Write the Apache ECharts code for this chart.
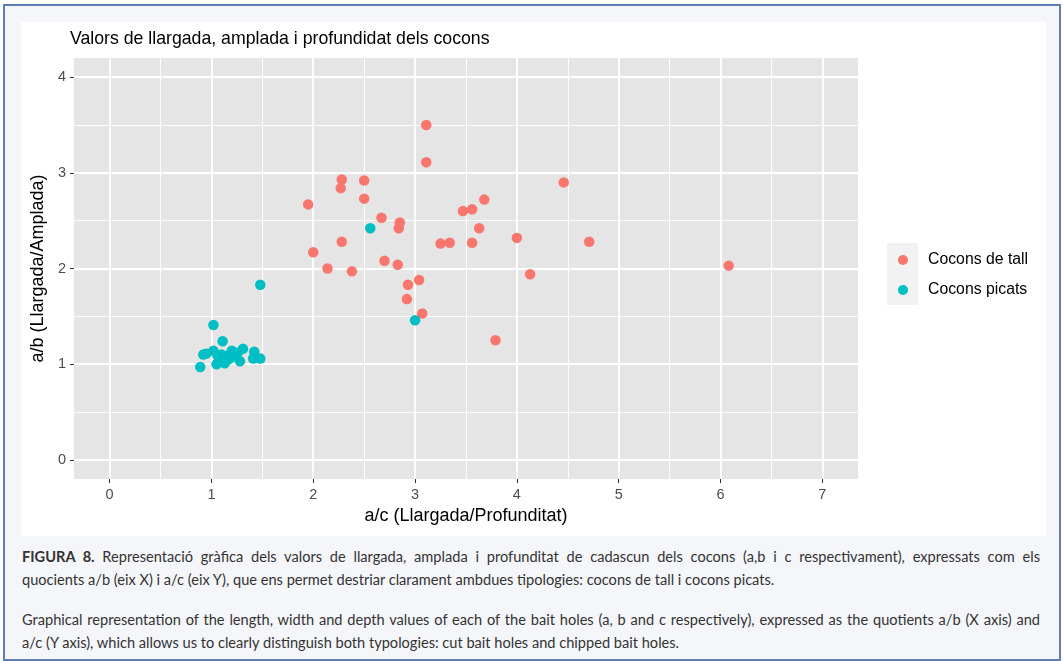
<!DOCTYPE html>
<html>
<head>
<meta charset="utf-8">
<script src="https://cdn.jsdelivr.net/npm/echarts@6/dist/echarts.min.js"></script>
<style>
  html, body { margin:0; padding:0; width:1063px; height:661px; background:#ffffff; overflow:hidden; }
  #frame { position:absolute; left:3px; top:4px; width:1054px; height:653px; background:#f4f6f9; border:2px solid #5f7fb4; }
  #chart { position:absolute; left:21px; top:22px; width:1025px; height:514px; background:#ffffff; }
  .cap { position:absolute; left:22px; font-family:'Lato','Noto Sans',sans-serif; font-size:14.6px; color:#333333; line-height:23px; white-space:nowrap; }
  .just { width:1018px; text-align:justify; text-align-last:justify; }
</style>
</head>
<body>
<div id="frame"></div>
<div id="chart"></div>
<div class="cap just" style="top:545px;"><b>FIGURA 8.</b> Representació gràfica dels valors de llargada, amplada i profunditat de cadascun dels cocons (a,b i c respectivament), expressats com els</div>
<div class="cap" style="top:568px;">quocients a/b (eix X) i a/c (eix Y), que ens permet destriar clarament ambdues tipologies: cocons de tall i cocons picats.</div>
<div class="cap just" style="top:608px;">Graphical representation of the length, width and depth values of each of the bait holes (a, b and c respectively), expressed as the quotients a/b (X axis) and</div>
<div class="cap" style="top:631px;">a/c (Y axis), which allows us to clearly distinguish both typologies: cut bait holes and chipped bait holes.</div>
<script>
// ---- data ----
const seriesNames = ['Cocons de tall', 'Cocons picats'];
const tallX = [3.11,3.11,2.28,2.50,2.27,2.50,1.95,4.46,3.68,3.47,3.56,2.67,2.85,2.84,3.63,2.28,2.00,3.25,3.34,3.56,4.00,4.71,2.14,2.38,2.70,2.83,4.13,6.08,3.04,2.93,2.92,3.07,3.79];
const tallY = [3.50,3.11,2.93,2.92,2.84,2.73,2.67,2.90,2.72,2.60,2.62,2.53,2.48,2.42,2.42,2.28,2.17,2.26,2.27,2.27,2.32,2.28,2.00,1.97,2.08,2.04,1.94,2.03,1.88,1.83,1.68,1.53,1.25];
const picatsX = [2.56,3.00,1.48,1.02,1.11,0.89,0.92,0.95,1.02,1.06,1.07,1.13,1.16,1.20,1.26,1.28,1.31,1.42,1.41,1.48,1.10,1.23,1.05,1.17];
const picatsY = [2.42,1.46,1.83,1.41,1.24,0.97,1.10,1.11,1.14,1.09,1.02,1.01,1.09,1.14,1.12,1.03,1.16,1.13,1.06,1.06,1.10,1.08,1.00,1.05];
const xTicks = [0,1,2,3,4,5,6,7];
const yTicks = [0,1,2,3,4];
const titleText = 'Valors de llargada, amplada i profundidat dels cocons';
const xTitle = 'a/c (Llargada/Profunditat)';
const yTitle = 'a/b (Llargada/Amplada)';
const colors = ['#F8766D', '#00BFC4'];

const zip = (xs, ys) => xs.map((v, i) => [v, ys[i]]);
const FONT = 'Liberation Sans, Arial, sans-serif';

function axisCommon(ticks) {
  return {
    type: 'value',
    minInterval: 1, maxInterval: 1,
    axisLine: { show: false, onZero: false },
    axisTick: { show: true, length: 4, lineStyle: { color: '#333333', width: 1 }, customValues: ticks },
    axisLabel: { customValues: ticks, color: '#4d4d4d', fontSize: 14.5, fontFamily: FONT,
                 formatter: v => (Math.abs(v - Math.round(v)) < 1e-9 ? String(Math.round(v)) : '') },
    splitLine: { show: true, lineStyle: { color: '#ffffff', width: 1.8 } },
    minorTick: { show: false, splitNumber: 2 },
    minorSplitLine: { show: true, lineStyle: { color: '#ffffff', width: 0.9 } },
    nameLocation: 'middle',
    nameTextStyle: { color: '#000000', fontSize: 18, fontFamily: FONT }
  };
}

const chart = echarts.init(document.getElementById('chart'), null, { renderer: 'canvas' });
const option = {
  animation: false,
  backgroundColor: '#ffffff',
  color: colors,
  title: {
    text: titleText, left: 49, top: 8, padding: 0,
    textStyle: { fontFamily: FONT, fontSize: 17.7, fontWeight: 'normal', color: '#000000' }
  },
  grid: { left: 49, top: 36, right: 188, bottom: 57, show: true, backgroundColor: '#e5e5e5', borderWidth: 0, containLabel: false },
  graphic: [
    { type: 'rect', left: 866, top: 221, shape: { width: 31, height: 62 }, style: { fill: '#f2f2f2' }, z: -1 }
  ],
  legend: {
    data: seriesNames, orient: 'vertical', left: 877, top: 230, padding: 0,
    icon: 'circle', itemWidth: 10, itemHeight: 10, itemGap: 14,
    formatter: name => '{g|}' + name,
    textStyle: { fontFamily: FONT, fontSize: 15.8, color: '#000000', rich: { g: { width: 15 } } }
  },
  xAxis: Object.assign(axisCommon(xTicks), { min: -0.35, max: 7.35, splitNumber: 8, name: xTitle, nameGap: 27 }),
  yAxis: Object.assign(axisCommon(yTicks), { min: -0.2, max: 4.2, splitNumber: 5, name: yTitle, nameGap: 23 }),
  series: [
    { name: seriesNames[0], type: 'scatter', data: zip(tallX, tallY), symbolSize: 10.5, itemStyle: { color: colors[0], opacity: 1 } },
    { name: seriesNames[1], type: 'scatter', data: zip(picatsX, picatsY), symbolSize: 10.5, itemStyle: { color: colors[1], opacity: 1 } }
  ]
};
chart.setOption(option);
</script>
</body>
</html>
